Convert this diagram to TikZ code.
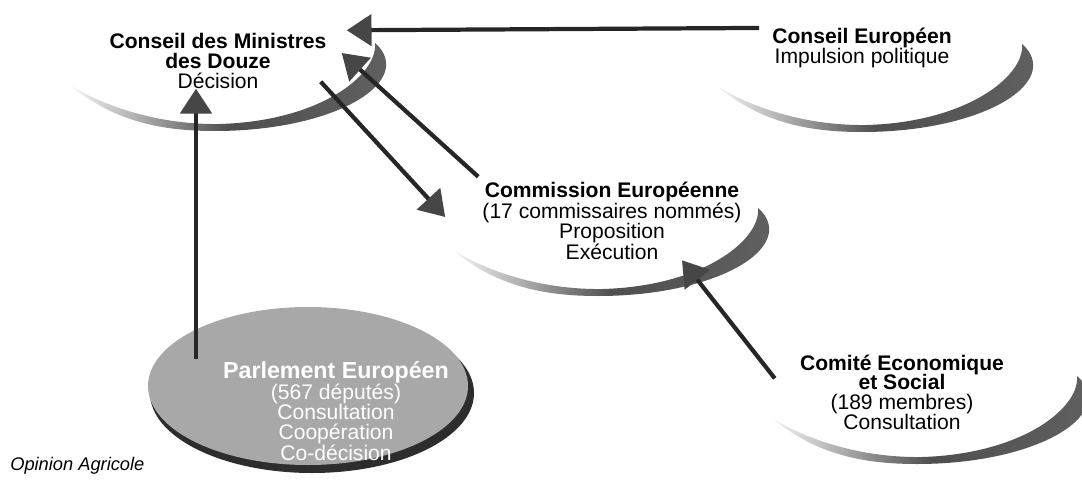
\documentclass[tikz,border=0pt]{standalone}
\usepackage{fontspec}
\setmainfont{Liberation Sans}
\usepackage{tikz}
\usetikzlibrary{positioning,arrows.meta}

\begin{document}
\begin{tikzpicture}[
        x=0.025cm, y=-0.025cm,
        organ/.style = {align=center, inner sep=0pt, font=\fontsize{15}{14}\selectfont},
        embossed/.style = {organ, text=white},
        line/.style = {draw=black!85, line width=3pt, -{Triangle[length=0.62cm, width=0.78cm, color=gray!55!black]}}, % thick lines, big grey heads
        swoosh/.pic = {
            \shade[left color=gray!8, right color=gray!75!black, middle color=gray!62!black]
                (0,0) .. controls (45,38) and (95,46) .. (145,46)
                .. controls (240,46) and (312,15) .. (316,-18)
                .. controls (317,-28) and (312,-36) .. (305,-42)
                .. controls (308,-10) and (250,36) .. (150,39)
                .. controls (90,40) and (35,22) .. (0,0) -- cycle;
        }
    ]
        \useasboundingbox (0,0) rectangle (1082,485);

        % Crescents under the bodies
        \pic at (70,85) {swoosh};
        \pic at (717,86) {swoosh};
        \pic at (453,250) {swoosh};
        \pic at (772,418) {swoosh};

        % Parliament disc
        \fill [gray!35!black] (312,393) ellipse [x radius=162, y radius=80];
        \fill [gray!68] (308,386) ellipse [x radius=160, y radius=79];

        % Nodes
        \node [organ] (ministres) at (218,61) {\textbf{Conseil des Ministres}\\\textbf{des Douze}\\Décision};
        \node [organ] (europeen) at (862,48) {\textbf{Conseil Européen}\\Impulsion politique};
        \node [organ] (commission) at (612,221) {\textbf{Commission Européenne}\\(17 commissaires nommés)\\Proposition\\Exécution};
        \node [organ] (comite) at (902,392) {\textbf{Comité Economique}\\\textbf{et Social}\\(189 membres)\\Consultation};
        \node [embossed] (parlement) at (336,411) {\textbf{\fontsize{16.5}{14}\selectfont Parlement Européen}\\(567 députés)\\Consultation\\Coopération\\Co-décision};
        \node [anchor=west, inner sep=0pt, font=\fontsize{13}{15}\selectfont\itshape] (source) at (10,466) {Opinion Agricole};

        % Lines
        \draw [line] ([shift={(-13,0)}]europeen.north west) -- ([shift={(20,-3)}]ministres.north east);
        \draw [line] ([shift={(-6,-7)}]ministres.south east) -- ([shift={(-37,-4)}]commission.west);
        \draw [line] ([shift={(-4,-5)}]commission.north west) -- ([shift={(15,-8)}]ministres.east);
        \draw [line] ([shift={(-25,24)}]comite.north west) -- ([shift={(70,0)}]commission.south);
        \draw [line] ([shift={(-140,-2)}]parlement.north) -- ([shift={(-22,0)}]ministres.south);
\end{tikzpicture}
\end{document}
